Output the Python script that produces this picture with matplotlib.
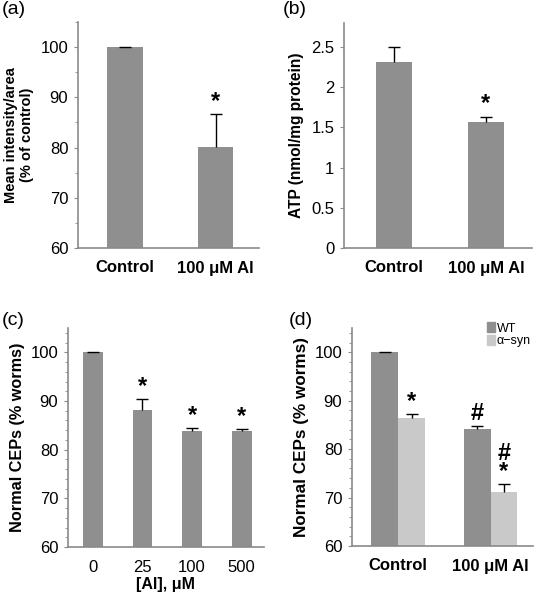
import matplotlib
matplotlib.use("Agg")
import matplotlib.pyplot as plt
import numpy as np
from matplotlib.ticker import MultipleLocator
from matplotlib.patches import Patch

plt.rcParams['font.family'] = ['Liberation Sans', 'DejaVu Sans']

# ---- data ----
a_cats = ["Control", "100 μM Al"]
a_vals = [100.0, 80.1]
a_errs = [0.1, 6.5]
a_sig = ["", "*"]

b_cats = ["Control", "100 μM Al"]
b_vals = [2.31, 1.57]
b_errs = [0.19, 0.06]
b_sig = ["", "*"]

c_cats = ["0", "25", "100", "500"]
c_vals = [100.0, 88.1, 83.8, 83.8]
c_errs = [0.1, 2.4, 0.7, 0.5]
c_sig = ["", "*", "*", "*"]

d_cats = ["Control", "100 μM Al"]
d_wt = [100.0, 84.2]
d_wt_err = [0.1, 0.5]
d_syn = [86.5, 71.2]
d_syn_err = [0.8, 1.6]
d_wt_sig = ["", "#"]
d_syn_sig = ["*", "#\n*"]

DARK = "#8f8f8f"
LIGHT = "#c9c9c9"
SPINE = "#8a8a8a"

W, H = 535, 600
fig = plt.figure(figsize=(W / 100, H / 100), dpi=100)


def mk_ax(l, r, t, b):
    return fig.add_axes([l / W, 1 - b / H, (r - l) / W, (b - t) / H])


def style(ax):
    for s in ["top", "right"]:
        ax.spines[s].set_visible(False)
    for s in ["left", "bottom"]:
        ax.spines[s].set_color(SPINE)
        ax.spines[s].set_linewidth(1.2)
    ax.tick_params(axis="y", which="major", direction="out", length=3, color=SPINE,
                   labelsize=12, pad=4)
    ax.tick_params(axis="y", which="minor", direction="out", length=2.5, color=SPINE)
    ax.tick_params(axis="x", length=0, labelsize=12, pad=9)


def bars(ax, x, vals, errs, width, color, sig, off):
    x = np.asarray(x, dtype=float)
    vals = np.asarray(vals, dtype=float)
    tops = vals + np.asarray(errs, dtype=float)
    ax.bar(x, vals, width=width, color=color, zorder=2)
    ax.vlines(x, vals, tops, color="black", linewidth=1, zorder=3)
    ax.plot(x, tops, linestyle="none", marker="_", markersize=9, markeredgewidth=1,
            color="black", zorder=3)
    for xi, t, s in zip(x, tops, sig):
        if s:
            ax.text(xi, t + off, s, ha="center", va="bottom", fontsize=17,
                    fontweight="bold", linespacing=0.7)


# (a)
ax = mk_ax(78, 259, 22, 248)
style(ax)
x = np.arange(len(a_cats))
bars(ax, x, a_vals, a_errs, 0.39, DARK, a_sig, 0.3)
ax.set_xlim(-0.52, 1.48)
ax.set_ylim(60, 105)
ax.yaxis.set_major_locator(MultipleLocator(10))
ax.yaxis.set_minor_locator(MultipleLocator(5))
ax.set_xticks(x)
ax.set_xticklabels(a_cats, fontweight="bold")
ax.set_ylabel("Mean intensity/area\n(% of control)", fontweight="bold", fontsize=10.5,
              linespacing=1.1, labelpad=5)
fig.text(2 / W, 1 - 1 / H, "(a)", fontsize=14, va="top", ha="left")

# (b)
ax = mk_ax(344, 532, 23, 248)
style(ax)
x = np.arange(len(b_cats))
bars(ax, x, b_vals, b_errs, 0.39, DARK, b_sig, 0.02)
ax.set_xlim(-0.54, 1.5)
ax.set_ylim(0, 2.8)
ax.set_yticks([0, 0.5, 1, 1.5, 2, 2.5])
ax.set_yticklabels(["0", "0.5", "1", "1.5", "2", "2.5"])
ax.set_xticks(x)
ax.set_xticklabels(b_cats, fontweight="bold")
ax.set_ylabel("ATP (nmol/mg protein)", fontweight="bold", fontsize=11.2, labelpad=5)
fig.text(283 / W, 1 - 1 / H, "(b)", fontsize=14, va="top", ha="left")

# (c)
ax = mk_ax(68, 264, 328, 547)
style(ax)
x = np.arange(len(c_cats))
bars(ax, x, c_vals, c_errs, 0.4, DARK, c_sig, 0.2)
ax.set_xlim(-0.5, 3.45)
ax.set_ylim(60, 105)
ax.yaxis.set_major_locator(MultipleLocator(10))
ax.yaxis.set_minor_locator(MultipleLocator(2))
ax.set_xticks(x)
ax.set_xticklabels(c_cats)
ax.set_xlabel("[Al], μM", fontweight="bold", fontsize=11.5, labelpad=2)
ax.set_ylabel("Normal CEPs (% worms)", fontweight="bold", fontsize=11.7, labelpad=4)
fig.text(2 / W, 1 - 312 / H, "(c)", fontsize=14, va="top", ha="left")

# (d)
ax = mk_ax(352, 533, 328, 546)
style(ax)
x = np.arange(len(d_cats))
bw = 0.29
bars(ax, x - bw / 2, d_wt, d_wt_err, bw, DARK, d_wt_sig, 0.2)
bars(ax, x + bw / 2, d_syn, d_syn_err, bw, LIGHT, d_syn_sig, 0.2)
ax.set_xlim(-0.5, 1.46)
ax.set_ylim(60, 105)
ax.yaxis.set_major_locator(MultipleLocator(10))
ax.yaxis.set_minor_locator(MultipleLocator(2))
ax.set_xticks(x)
ax.set_xticklabels(d_cats, fontweight="bold")
ax.set_ylabel("Normal CEPs (% worms)", fontweight="bold", fontsize=12.3, labelpad=4)
handles = [Patch(color=DARK, label="WT"), Patch(color=LIGHT, label="α−syn")]
ax.legend(handles=handles, loc="upper right", bbox_to_anchor=(1.03, 1.06), frameon=False,
          fontsize=9, handlelength=0.6, handleheight=0.8, handletextpad=0.15,
          labelspacing=0.05, borderpad=0.1)
fig.text(289 / W, 1 - 312 / H, "(d)", fontsize=14, va="top", ha="left")

fig.savefig("out.png", dpi=100)
